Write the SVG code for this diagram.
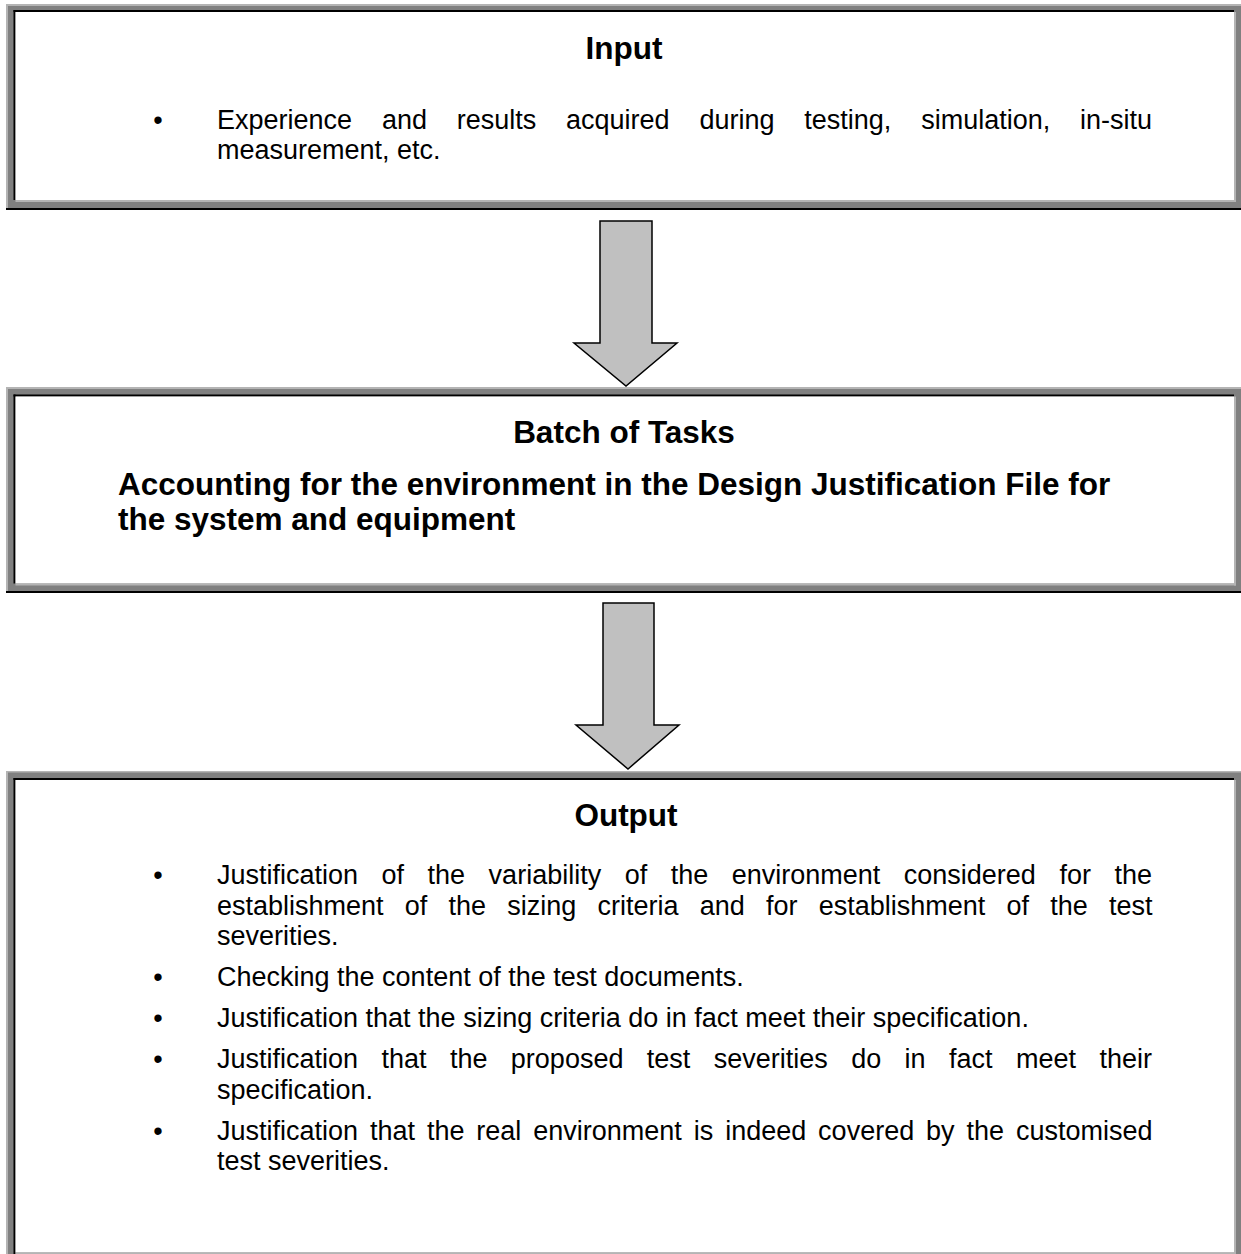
<svg xmlns="http://www.w3.org/2000/svg" width="1241" height="1254" viewBox="0 0 1241 1254">
  <style>
    .lite { fill: #b4b4b4; }
    .dark { fill: #808080; }
    .ink { fill: #000000; }
    .paper { fill: #ffffff; }
    .head { font-family: "Liberation Sans", Arial, sans-serif; font-weight: bold; font-size: 31.5px; fill: #000; }
    .body { font-family: "Liberation Sans", Arial, sans-serif; font-size: 27px; fill: #000; }
    .arrow { fill: #c0c0c0; stroke: #000; stroke-width: 1.5; stroke-linejoin: miter; }
  </style>
  <rect width="1241" height="1254" fill="#ffffff"/>

  <!-- Input box -->
  <g id="input">
    <rect class="dark" x="6" y="4" width="1235" height="204"/>
    <rect class="lite" x="6" y="4" width="1235" height="2"/>
    <rect class="lite" x="6" y="4" width="2" height="204"/>
    <rect class="ink" x="13.5" y="10" width="1220.5" height="2"/>
    <rect class="ink" x="13.5" y="10" width="2" height="190"/>
    <rect class="paper" x="15.5" y="12" width="1218.5" height="188"/>
    <rect class="lite" x="1234" y="12" width="2" height="190"/>
    <rect class="lite" x="15.5" y="200" width="1220.5" height="2"/>
    <rect class="ink" x="6" y="208" width="1235" height="2"/>
    <text class="head" x="624" y="59" text-anchor="middle">Input</text>
    <text class="body" x="158" y="129" text-anchor="middle">•</text>
    <text class="body" x="217" y="129" word-spacing="22.3">Experience and results acquired during testing, simulation, in-situ</text>
    <text class="body" x="217" y="159">measurement, etc.</text>
  </g>

  <!-- Batch of tasks box -->
  <g id="tasks">
    <rect class="dark" x="6" y="387" width="1235" height="204"/>
    <rect class="lite" x="6" y="387" width="1235" height="2"/>
    <rect class="lite" x="6" y="387" width="2" height="204"/>
    <rect class="ink" x="13.5" y="394.5" width="1220.5" height="2"/>
    <rect class="ink" x="13.5" y="394.5" width="2" height="189"/>
    <rect class="paper" x="15.5" y="396.5" width="1218.5" height="187"/>
    <rect class="lite" x="1234" y="396.5" width="2" height="189"/>
    <rect class="lite" x="15.5" y="583.5" width="1220.5" height="2"/>
    <rect class="ink" x="6" y="591" width="1235" height="2"/>
    <text class="head" x="624" y="443" text-anchor="middle">Batch of Tasks</text>
    <text class="head" x="118" y="495">Accounting for the environment in the Design Justification File for</text>
    <text class="head" x="118" y="530">the system and equipment</text>
  </g>

  <!-- Output box -->
  <g id="output">
    <rect class="dark" x="6" y="771" width="1235" height="483"/>
    <rect class="lite" x="6" y="771" width="1235" height="1.5"/>
    <rect class="lite" x="6" y="771" width="2" height="483"/>
    <rect class="ink" x="13.5" y="778" width="1220.5" height="2"/>
    <rect class="ink" x="13.5" y="778" width="2" height="476"/>
    <rect class="paper" x="15.5" y="780" width="1218.5" height="472.5"/>
    <rect class="lite" x="1234" y="780" width="2" height="474"/>
    <rect class="lite" x="15.5" y="1252.5" width="1220.5" height="1.5"/>
    <text class="head" x="626" y="826" text-anchor="middle">Output</text>
    <g class="body">
      <text x="158" y="884" text-anchor="middle">•</text>
      <text x="217" y="884" word-spacing="16.0">Justification of the variability of the environment considered for the</text>
      <text x="217" y="914.5" word-spacing="13.7">establishment of the sizing criteria and for establishment of the test</text>
      <text x="217" y="945">severities.</text>
      <text x="158" y="986" text-anchor="middle">•</text>
      <text x="217" y="986">Checking the content of the test documents.</text>
      <text x="158" y="1027" text-anchor="middle">•</text>
      <text x="217" y="1027">Justification that the sizing criteria do in fact meet their specification.</text>
      <text x="158" y="1068" text-anchor="middle">•</text>
      <text x="217" y="1068" word-spacing="15.9">Justification that the proposed test severities do in fact meet their</text>
      <text x="217" y="1098.5">specification.</text>
      <text x="158" y="1139.5" text-anchor="middle">•</text>
      <text x="217" y="1139.5" word-spacing="4.4">Justification that the real environment is indeed covered by the customised</text>
      <text x="217" y="1170">test severities.</text>
    </g>
  </g>

  <!-- Block arrows between the boxes -->
  <g id="connectors">
    <polygon class="arrow" points="600,221 652,221 652,343 677,343 626,386 574,343 600,343"/>
    <polygon class="arrow" points="603,603 654,603 654,725 679,725 628,769 576,725 603,725"/>
  </g>
</svg>
